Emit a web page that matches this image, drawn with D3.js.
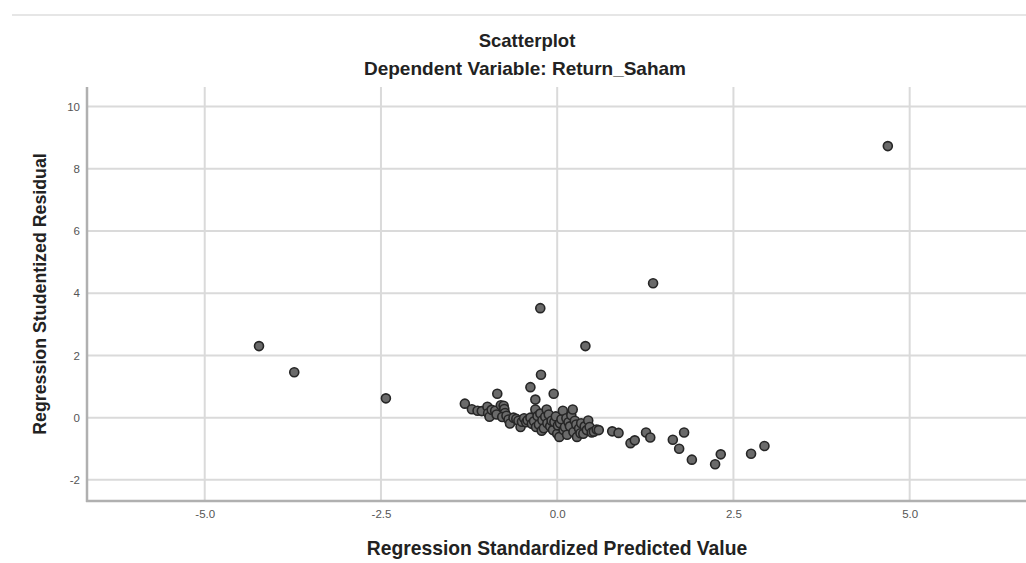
<!DOCTYPE html>
<html>
<head>
<meta charset="utf-8">
<script src="https://cdn.jsdelivr.net/npm/d3@7/dist/d3.min.js"></script>
<style>
  html, body { margin: 0; padding: 0; background: #fff; }
  svg { display: block; }
  text { font-family: "Liberation Sans", Arial, sans-serif; }
</style>
</head>
<body>
<svg id="chart" width="1026" height="563"></svg>
<script>
// ---- Data ----
const title = "Scatterplot";
const subtitle = "Dependent Variable: Return_Saham";
const xLabel = "Regression Standardized Predicted Value";
const yLabel = "Regression Studentized Residual";

const xTicks = [-5.0, -2.5, 0.0, 2.5, 5.0];
const yTicks = [-2, 0, 2, 4, 6, 8, 10];
const xDomain = [-6.67, 6.65];
const yDomain = [-2.68, 10.63];

// Regression standardized predicted value (x) and studentized residual (y)
const predicted = [
  4.69, 1.36, -0.24, 0.40, -4.23, -3.73, -2.43,
  -0.23, -0.38, -0.85, -0.05, -0.31,
  -1.31, -1.21, -1.13, -1.07, -0.99, -0.98, -0.96, -0.93, -0.88, -0.86,
  -0.80, -0.76, -0.75, -0.74, -0.78, -0.72, -0.69, -0.67, -0.62, -0.58,
  -0.55, -0.52, -0.50, -0.47, -0.44, -0.42, -0.38, -0.36, -0.33, -0.31,
  -0.30, -0.28, -0.26, -0.24, -0.22, -0.21, -0.19, -0.17, -0.15, -0.14,
  -0.12, -0.10, -0.08, -0.06, -0.04, -0.02, 0.00, 0.01, 0.03, 0.04,
  0.06, 0.08, 0.09, 0.11, 0.13, 0.14, 0.16, 0.18, 0.20, 0.22,
  0.23, 0.25, 0.27, 0.28, 0.31, 0.33, 0.34, 0.37, 0.39, 0.42,
  0.44, 0.46, 0.49, 0.52, 0.56, 0.59,
  0.78, 0.87, 1.04, 1.10, 1.26, 1.32, 1.64, 1.80, 1.73, 1.91,
  2.24, 2.32, 2.75, 2.94
];
const residual = [
  8.73, 4.32, 3.52, 2.30, 2.30, 1.46, 0.62,
  1.38, 0.98, 0.77, 0.77, 0.58,
  0.45, 0.27, 0.22, 0.21, 0.35, 0.14, 0.03, 0.25, 0.22, 0.10,
  0.40, 0.38, 0.28, 0.15, 0.02, 0.06, -0.06, -0.19, 0.00, -0.04,
  -0.10, -0.30, -0.13, -0.02, -0.15, -0.08, 0.00, -0.20, -0.12, 0.26,
  -0.30, 0.05, -0.22, 0.13, -0.42, -0.08, -0.34, 0.03, 0.26, -0.18,
  0.10, -0.28, -0.10, -0.40, -0.14, 0.04, -0.52, -0.25, -0.62, -0.18,
  -0.05, 0.22, -0.40, -0.30, -0.02, -0.55, -0.15, -0.28, 0.08, 0.26,
  -0.46, -0.10, -0.22, -0.62, -0.35, -0.50, -0.18, -0.52, -0.28, -0.40,
  -0.09, -0.30, -0.48, -0.45, -0.38, -0.40,
  -0.44, -0.49, -0.82, -0.73, -0.48, -0.64, -0.71, -0.48, -1.00, -1.35,
  -1.50, -1.18, -1.16, -0.91
];

// ---- Drawing ----
const svg = d3.select("#chart");
const W = 1026, H = 563;
const plot = { left: 87, right: 1026, top: 87, bottom: 501 };

const x = d3.scaleLinear().domain(xDomain).range([plot.left, plot.right]);
const y = d3.scaleLinear().domain(yDomain).range([plot.bottom, plot.top]);

svg.append("rect").attr("width", W).attr("height", H).attr("fill", "#fff");

// thin separator line at top
svg.append("line")
  .attr("x1", 12).attr("x2", W).attr("y1", 15).attr("y2", 15)
  .attr("stroke", "#e6e6e6").attr("stroke-width", 2);

// titles
svg.append("text").text(title)
  .attr("x", 527).attr("y", 40).attr("text-anchor", "middle")
  .attr("dominant-baseline", "central")
  .attr("font-size", 18.5).attr("font-weight", "bold").attr("fill", "#222");
svg.append("text").text(subtitle)
  .attr("x", 525).attr("y", 68).attr("text-anchor", "middle")
  .attr("dominant-baseline", "central")
  .attr("font-size", 19).attr("font-weight", "bold").attr("fill", "#222");

// gridlines
const grid = svg.append("g");
grid.selectAll("line.h").data(yTicks).join("line")
  .attr("class", "h")
  .attr("x1", plot.left).attr("x2", plot.right)
  .attr("y1", d => y(d)).attr("y2", d => y(d))
  .attr("stroke", "#dadada").attr("stroke-width", 2);
grid.selectAll("line.v").data(xTicks).join("line")
  .attr("class", "v")
  .attr("y1", plot.top).attr("y2", plot.bottom)
  .attr("x1", d => x(d)).attr("x2", d => x(d))
  .attr("stroke", "#dadada").attr("stroke-width", 2);

// axes (plain hyphen for negatives, as in the reference)
const fmtX = d => d3.format(".1f")(d).replace("\u2212", "-");
const fmtY = d => d3.format("d")(d).replace("\u2212", "-");
const xAxis = d3.axisBottom(x).tickValues(xTicks).tickSize(0).tickPadding(9)
  .tickFormat(fmtX);
const yAxis = d3.axisLeft(y).tickValues(yTicks).tickSize(0).tickPadding(7)
  .tickFormat(fmtY);

const gx = svg.append("g").attr("transform", `translate(0,${plot.bottom})`).call(xAxis);
const gy = svg.append("g").attr("transform", `translate(${plot.left},0)`).call(yAxis);
[gx, gy].forEach(g => {
  g.select(".domain").remove();
  g.selectAll("text").attr("font-size", 11.5).attr("fill", "#555")
    .attr("font-family", "'Liberation Sans', Arial, sans-serif");
});

svg.append("line")
  .attr("x1", plot.left).attr("x2", plot.left)
  .attr("y1", plot.top).attr("y2", plot.bottom + 1)
  .attr("stroke", "#b0b0b0").attr("stroke-width", 2.5);
svg.append("line")
  .attr("x1", plot.left - 1).attr("x2", plot.right)
  .attr("y1", plot.bottom).attr("y2", plot.bottom)
  .attr("stroke", "#b0b0b0").attr("stroke-width", 2.5);

// axis titles
svg.append("text").text(xLabel)
  .attr("x", 557).attr("y", 548).attr("text-anchor", "middle")
  .attr("dominant-baseline", "central")
  .attr("font-size", 19.3).attr("font-weight", "bold").attr("fill", "#222");
svg.append("text").text(yLabel)
  .attr("transform", "translate(40,294) rotate(-90)")
  .attr("text-anchor", "middle").attr("dominant-baseline", "central")
  .attr("font-size", 17.8).attr("font-weight", "bold").attr("fill", "#222");

// points
const pts = predicted.map((p, i) => ({ x: p, y: residual[i] }));
svg.append("g").selectAll("circle").data(pts).join("circle")
  .attr("cx", d => x(d.x)).attr("cy", d => y(d.y)).attr("r", 4.5)
  .attr("fill", "#6a6a6a").attr("stroke", "#262626").attr("stroke-width", 1.6);
</script>
</body>
</html>
